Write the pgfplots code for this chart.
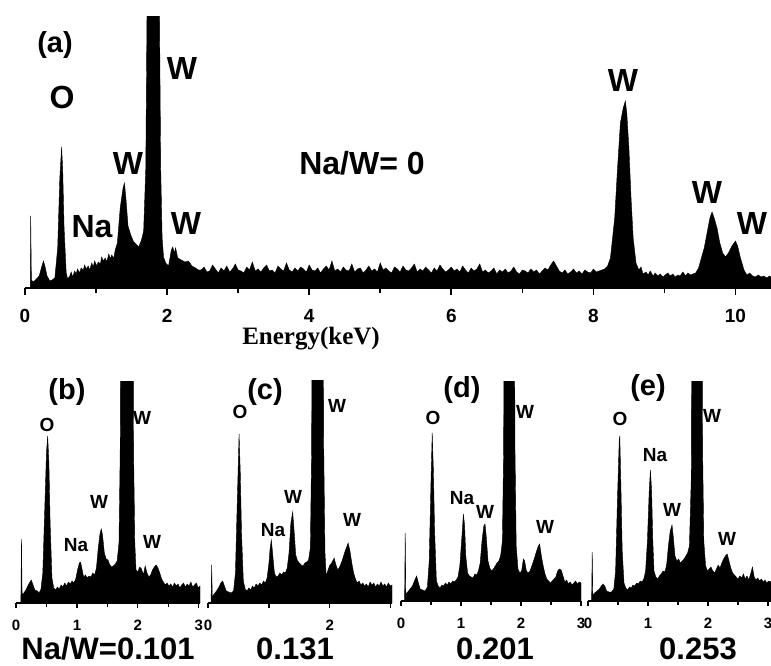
\documentclass[border=0pt]{standalone}
\usepackage{fontspec}
\setmainfont{Liberation Serif}
\setsansfont{Liberation Sans}
\usepackage{pgfplots}
\pgfplotsset{compat=1.18}

\newcommand{\fs}[1]{\fontsize{#1}{#1}\selectfont}

\pgfplotsset{
  eds/.style={
    scale only axis,
    axis x line*=bottom,
    axis y line=none,
    anchor=south west,
    ymin=0,
    tick align=outside,
    /pgf/number format/assume math mode=true,
    xticklabel style={font=\sffamily\bfseries\fs{15}, inner sep=0pt, yshift=-12pt},
    axis line style={line width=1.2pt},
    tick style={line width=1.2pt, black},
    major tick length=5pt,
    minor tick length=3.5pt,
  },
  spec/.style={fill=black, draw=black, line width=0.4pt, mark=none},
}

\begin{document}
\begin{tikzpicture}
\useasboundingbox (0,0) rectangle (771pt,665pt);

% (a) Na/W = 0, full range
\begin{axis}[eds, at={(25pt,377pt)}, width=746pt, height=271pt,
  xmin=0, xmax=10.5, ymax=271,
  xtick={0,2,4,6,8,10}, minor xtick={1,3,5,7,9},
  xticklabel style={font=\sffamily\bfseries\fs{19}, yshift=-2pt},
  axis line style={line width=1.6pt}, tick style={line width=1.6pt},
  major tick length=7pt, minor tick length=5pt]
\addplot[spec] coordinates {
(0.075,0)(0.08,72)(0.09,8)(0.12,6)(0.16,9)(0.20,12)(0.23,20)(0.26,27)(0.28,22)(0.31,12)
(0.35,7)(0.38,8)(0.42,10)(0.46,40)(0.49,110)(0.515,141)(0.53,120)(0.55,60)(0.58,15)(0.60,9)
(0.63,12)(0.65,16)(0.67,11)(0.70,17)(0.72,14)(0.74,19)(0.77,15)(0.79,20)(0.82,18)(0.84,23)
(0.86,19)(0.89,22)(0.91,18)(0.94,25)(0.96,21)(0.98,27)(1.01,22)(1.03,26)(1.06,24)(1.08,31)
(1.10,27)(1.13,30)(1.15,26)(1.18,34)(1.20,29)(1.22,33)(1.25,30)(1.27,38)(1.30,45)(1.34,80)
(1.38,100)(1.40,105)(1.42,90)(1.45,62)(1.48,55)(1.50,51)(1.53,46)(1.56,44)(1.60,41)(1.64,48)
(1.67,57)(1.70,120)(1.72,300)(1.74,600)(1.87,600)(1.89,300)(1.91,120)(1.93,50)(1.95,31)(1.98,25)
(2.02,22)(2.06,38)(2.08,41)(2.10,35)(2.12,40)(2.15,30)(2.20,28)(2.25,26)(2.30,27)(2.35,22)
(2.40,20)(2.44,18)
(2.48,18)(2.52,21)(2.56,16)(2.60,17)(2.64,23)(2.68,19)(2.72,15)(2.76,20)(2.80,17)(2.84,22)
(2.88,16)(2.92,19)(2.96,24)(3.00,18)(3.04,17)(3.08,15)(3.12,21)(3.16,18)(3.20,26)(3.24,17)
(3.28,19)(3.32,16)(3.36,20)(3.40,23)(3.44,17)(3.48,18)(3.52,15)(3.56,22)(3.60,19)(3.64,17)
(3.68,25)(3.72,18)(3.76,16)(3.80,20)(3.84,17)(3.88,21)(3.92,19)(3.96,16)(4.00,23)(4.04,18)
(4.08,17)(4.12,20)(4.16,15)(4.20,19)(4.24,22)(4.28,18)(4.32,27)(4.36,17)(4.40,19)(4.44,16)
(4.48,21)(4.52,18)(4.56,17)(4.60,24)(4.64,16)(4.68,19)(4.72,20)(4.76,15)(4.80,18)(4.84,22)
(4.88,17)(4.92,19)(4.96,16)(5.00,25)(5.04,18)(5.08,20)(5.12,17)(5.16,15)(5.20,21)(5.24,19)
(5.28,16)(5.32,22)(5.36,18)(5.40,17)(5.44,20)(5.48,24)(5.52,16)(5.56,19)(5.60,17)(5.64,21)
(5.68,18)(5.72,15)(5.76,20)(5.80,17)(5.84,23)(5.88,19)(5.92,16)(5.96,18)(6.00,21)(6.04,17)
(6.08,19)(6.12,16)(6.16,22)(6.20,18)(6.24,15)(6.28,20)(6.32,17)(6.36,19)(6.40,24)(6.44,16)
(6.48,18)(6.52,15)(6.56,17)(6.60,20)(6.64,14)(6.68,18)(6.72,16)(6.76,19)(6.80,15)(6.84,17)
(6.88,21)(6.92,16)(6.96,14)(7.00,18)(7.04,17)(7.08,15)(7.12,19)(7.16,16)(7.20,18)(7.24,14)
(7.28,17)(7.32,20)(7.36,18)(7.40,23)(7.44,27)(7.48,22)(7.52,17)(7.56,15)(7.60,18)(7.64,14)
(7.68,16)(7.72,19)(7.76,15)(7.80,17)(7.84,14)(7.88,18)(7.92,16)(7.96,15)(8.00,19)(8.04,16)
(8.08,17)(8.12,18)(8.16,19)(8.20,22)(8.24,30)(8.27,50)(8.30,70)(8.34,120)(8.38,165)
(8.42,180)(8.45,187)(8.47,175)(8.50,140)(8.53,90)(8.56,50)(8.60,25)(8.64,18)(8.67,21)(8.70,14)
(8.74,16)(8.77,13)(8.80,17)(8.84,12)(8.87,15)(8.91,12)(8.94,14)(8.98,11)(9.01,13)(9.05,15)
(9.08,12)(9.12,14)(9.15,11)(9.19,13)(9.22,12)(9.26,16)(9.30,12)(9.33,15)(9.37,13)(9.40,14)
(9.44,15)(9.48,20)(9.52,30)(9.56,40)(9.60,55)(9.64,70)(9.67,76)(9.70,70)(9.74,60)(9.78,45)
(9.82,35)(9.86,31)(9.90,35)(9.95,42)(10.00,47)(10.03,42)(10.07,30)(10.12,18)(10.16,13)(10.20,15)
(10.24,12)(10.28,11)(10.32,13)(10.36,11)(10.40,12)(10.44,10)(10.48,12)(10.50,11)
} \closedcycle;
\end{axis}

% (b) Na/W = 0.101
\begin{axis}[eds, at={(16pt,62pt)}, width=184pt, height=222pt,
  xmin=0, xmax=3.02, ymax=222,
  xtick={0,1,2,3}, minor xtick={0.5,1.5,2.5}]
\addplot[spec] coordinates {
(0.08,0)(0.09,64)(0.10,8)(0.13,10)(0.17,14)(0.21,19)(0.25,23)(0.28,18)(0.31,13)(0.35,12)
(0.38,10)(0.41,14)(0.44,30)(0.47,90)(0.50,150)(0.52,167)(0.54,140)(0.56,80)(0.59,25)(0.62,15)
(0.65,13)(0.68,16)(0.71,14)(0.74,18)(0.77,16)(0.80,20)(0.83,17)(0.86,21)(0.89,19)(0.92,22)
(0.95,20)(0.98,24)(1.01,33)(1.04,40)(1.06,41)(1.08,35)(1.11,26)(1.14,28)(1.17,25)(1.20,27)
(1.23,26)(1.26,30)(1.29,28)(1.32,35)(1.35,55)(1.38,70)(1.40,74)(1.42,68)(1.45,50)(1.48,44)
(1.51,43)(1.54,38)(1.57,36)(1.60,37)(1.63,39)(1.66,42)(1.69,60)(1.71,150)(1.72,300)(1.92,300)
(1.93,150)(1.95,60)(1.97,33)(2.00,31)(2.03,36)(2.06,34)(2.09,28)(2.12,37)(2.15,30)(2.18,26)
(2.21,28)(2.24,33)(2.27,36)(2.30,38)(2.33,35)(2.36,30)(2.39,24)(2.42,21)(2.45,18)(2.48,20)
(2.51,17)(2.54,19)(2.57,16)(2.60,20)(2.63,17)(2.66,19)(2.69,15)(2.72,18)(2.75,20)(2.78,16)
(2.81,19)(2.84,17)(2.87,21)(2.90,16)(2.93,18)(2.96,20)(2.99,15)(3.02,17)
} \closedcycle;
\end{axis}

% (c) Na/W = 0.131
\begin{axis}[eds, at={(208pt,62pt)}, width=184pt, height=222pt,
  xmin=0, xmax=3.02, ymax=222,
  xtick={0,1,2,3}, xticklabels={0,{},2,{}}]
\addplot[spec] coordinates {
(0.05,0)(0.06,38)(0.07,6)(0.10,9)(0.14,12)(0.18,16)(0.21,20)(0.24,22)(0.27,17)(0.30,12)
(0.34,11)(0.38,10)(0.42,12)(0.45,30)(0.48,100)(0.51,169)(0.53,130)(0.55,70)(0.58,22)(0.61,14)
(0.64,12)(0.67,15)(0.70,13)(0.73,17)(0.76,15)(0.79,19)(0.82,17)(0.85,20)(0.88,18)(0.91,22)
(0.94,20)(0.97,25)(1.00,40)(1.02,55)(1.04,63)(1.06,50)(1.09,30)(1.12,26)(1.15,27)(1.18,30)
(1.21,28)(1.24,31)(1.27,30)(1.30,35)(1.33,50)(1.36,80)(1.39,91)(1.41,75)(1.44,48)(1.47,42)
(1.50,40)(1.53,38)(1.56,37)(1.59,40)(1.62,41)(1.65,43)(1.68,55)(1.70,150)(1.71,300)(1.89,300)
(1.90,150)(1.92,50)(1.94,27)(1.97,33)(2.00,38)(2.03,40)(2.07,45)(2.10,38)(2.13,33)(2.16,36)
(2.20,42)(2.24,50)(2.27,55)(2.30,60)(2.33,52)(2.36,40)(2.39,30)(2.42,24)(2.45,20)(2.48,22)
(2.51,18)(2.54,20)(2.57,17)(2.60,19)(2.63,16)(2.66,21)(2.69,18)(2.72,20)(2.75,16)(2.78,19)
(2.81,17)(2.84,21)(2.87,17)(2.90,19)(2.93,16)(2.96,20)(2.99,17)(3.02,18)
} \closedcycle;
\end{axis}

% (d) Na/W = 0.201
\begin{axis}[eds, at={(401pt,64pt)}, width=180pt, height=220pt,
  xmin=0, xmax=3.0, ymax=220,
  xtick={0,1,2,3}, minor xtick={0.5,1.5,2.5}]
\addplot[spec] coordinates {
(0.06,0)(0.07,68)(0.08,7)(0.11,9)(0.15,12)(0.19,15)(0.23,21)(0.26,25)(0.29,18)(0.32,12)
(0.36,11)(0.40,10)(0.44,14)(0.47,40)(0.50,120)(0.52,168)(0.54,130)(0.56,70)(0.59,20)(0.62,15)
(0.65,13)(0.68,16)(0.71,15)(0.74,18)(0.77,16)(0.80,19)(0.83,17)(0.86,20)(0.89,19)(0.92,21)
(0.95,24)(0.98,35)(1.01,60)(1.04,87)(1.06,75)(1.08,45)(1.11,28)(1.14,25)(1.17,24)(1.20,23)
(1.23,27)(1.26,26)(1.29,30)(1.32,38)(1.35,60)(1.38,75)(1.40,77)(1.42,65)(1.45,40)(1.48,33)
(1.51,30)(1.54,32)(1.57,35)(1.60,38)(1.63,40)(1.66,45)(1.69,60)(1.71,150)(1.72,300)(1.89,300)
(1.90,150)(1.92,55)(1.95,32)(1.98,28)(2.01,30)(2.04,42)(2.06,40)(2.09,30)(2.12,28)(2.15,30)
(2.18,35)(2.22,42)(2.26,50)(2.29,55)(2.31,57)(2.34,45)(2.37,35)(2.40,27)(2.43,22)(2.46,20)
(2.49,18)(2.52,20)(2.55,22)(2.58,24)(2.61,30)(2.64,32)(2.67,31)(2.70,25)(2.73,19)(2.76,21)
(2.79,17)(2.82,19)(2.85,16)(2.88,18)(2.91,20)(2.94,17)(2.97,19)(3.00,18)
} \closedcycle;
\end{axis}

% (e) Na/W = 0.253
\begin{axis}[eds, at={(588pt,64pt)}, width=183pt, height=220pt,
  xmin=0, xmax=3.05, ymax=220,
  xtick={0,1,2,3}, minor xtick={0.5,1.5,2.5}]
\addplot[spec] coordinates {
(0.06,0)(0.07,49)(0.08,6)(0.11,8)(0.15,10)(0.19,12)(0.22,15)(0.25,17)(0.28,15)(0.31,10)
(0.35,9)(0.39,9)(0.43,12)(0.46,30)(0.49,100)(0.52,160)(0.53,165)(0.55,110)(0.57,50)(0.60,18)
(0.63,13)(0.66,11)(0.69,14)(0.72,13)(0.75,16)(0.78,15)(0.81,18)(0.84,17)(0.87,20)(0.90,19)
(0.93,22)(0.96,30)(0.99,60)(1.02,110)(1.04,131)(1.06,110)(1.08,60)(1.10,30)(1.13,24)(1.16,22)
(1.19,25)(1.22,27)(1.25,30)(1.28,29)(1.31,36)(1.34,55)(1.37,70)(1.40,76)(1.42,65)(1.45,45)
(1.48,40)(1.51,42)(1.54,38)(1.57,40)(1.60,42)(1.63,45)(1.66,48)(1.69,55)(1.72,120)(1.73,300)
(1.90,300)(1.91,150)(1.93,60)(1.96,35)(1.99,30)(2.02,32)(2.05,34)(2.08,30)(2.11,28)(2.14,32)
(2.17,36)(2.20,33)(2.23,38)(2.26,42)(2.29,45)(2.32,47)(2.35,40)(2.38,33)(2.41,28)(2.44,26)
(2.47,24)(2.50,22)(2.53,25)(2.56,23)(2.59,27)(2.62,22)(2.65,25)(2.68,21)(2.71,27)(2.74,34)
(2.77,24)(2.80,21)(2.83,23)(2.86,20)(2.89,22)(2.92,19)(2.95,21)(2.98,18)(3.01,20)(3.05,19)
} \closedcycle;
\end{axis}

% annotations, in pixel positions measured from the top left
\begin{scope}[x=1pt, y=-1pt, yshift=665pt, font=\sffamily\bfseries]
\node[font=\sffamily\bfseries\fs{29}] at (55,45) {(a)};
\node[font=\sffamily\bfseries\fs{32}] at (62,97) {O};
\node[font=\sffamily\bfseries\fs{32}] at (182,68) {W};
\node[font=\sffamily\bfseries\fs{32}] at (128,163) {W};
\node[font=\sffamily\bfseries\fs{32}] at (92,227) {Na};
\node[font=\sffamily\bfseries\fs{32}] at (186,223) {W};
\node[font=\sffamily\bfseries\fs{32}] at (362,163) {Na/W= 0};
\node[font=\sffamily\bfseries\fs{32}] at (623,80) {W};
\node[font=\sffamily\bfseries\fs{32}] at (707,192) {W};
\node[font=\sffamily\bfseries\fs{32}] at (752,223) {W};
\node[font=\rmfamily\bfseries\fs{25}, inner sep=0pt] at (311,339) {Energy(keV)};

\node[font=\sffamily\bfseries\fs{29}] at (67,392) {(b)};
\node[font=\sffamily\bfseries\fs{19}] at (47,425) {O};
\node[font=\sffamily\bfseries\fs{19}] at (142,418) {W};
\node[font=\sffamily\bfseries\fs{19}] at (99,502) {W};
\node[font=\sffamily\bfseries\fs{19}] at (76,545) {Na};
\node[font=\sffamily\bfseries\fs{19}] at (152,542) {W};

\node[font=\sffamily\bfseries\fs{29}] at (265,392) {(c)};
\node[font=\sffamily\bfseries\fs{19}] at (240,412) {O};
\node[font=\sffamily\bfseries\fs{19}] at (337,406) {W};
\node[font=\sffamily\bfseries\fs{19}] at (293,497) {W};
\node[font=\sffamily\bfseries\fs{19}] at (273,530) {Na};
\node[font=\sffamily\bfseries\fs{19}] at (352,520) {W};

\node[font=\sffamily\bfseries\fs{29}] at (462,390) {(d)};
\node[font=\sffamily\bfseries\fs{19}] at (433,418) {O};
\node[font=\sffamily\bfseries\fs{19}] at (525,412) {W};
\node[font=\sffamily\bfseries\fs{19}] at (462,498) {Na};
\node[font=\sffamily\bfseries\fs{19}] at (485,512) {W};
\node[font=\sffamily\bfseries\fs{19}] at (545,527) {W};

\node[font=\sffamily\bfseries\fs{29}] at (648,388) {(e)};
\node[font=\sffamily\bfseries\fs{19}] at (620,419) {O};
\node[font=\sffamily\bfseries\fs{19}] at (712,416) {W};
\node[font=\sffamily\bfseries\fs{19}] at (655,455) {Na};
\node[font=\sffamily\bfseries\fs{19}] at (672,510) {W};
\node[font=\sffamily\bfseries\fs{19}] at (727,539) {W};

\begin{scope}[every node/.style={inner sep=0pt, font=\sffamily\bfseries\fs{31}}]
\node at (108,649) {Na/W=0.101};
\node at (295,649) {0.131};
\node at (495,649) {0.201};
\node at (698,649) {0.253};
\end{scope}
\end{scope}
\end{tikzpicture}
\end{document}
